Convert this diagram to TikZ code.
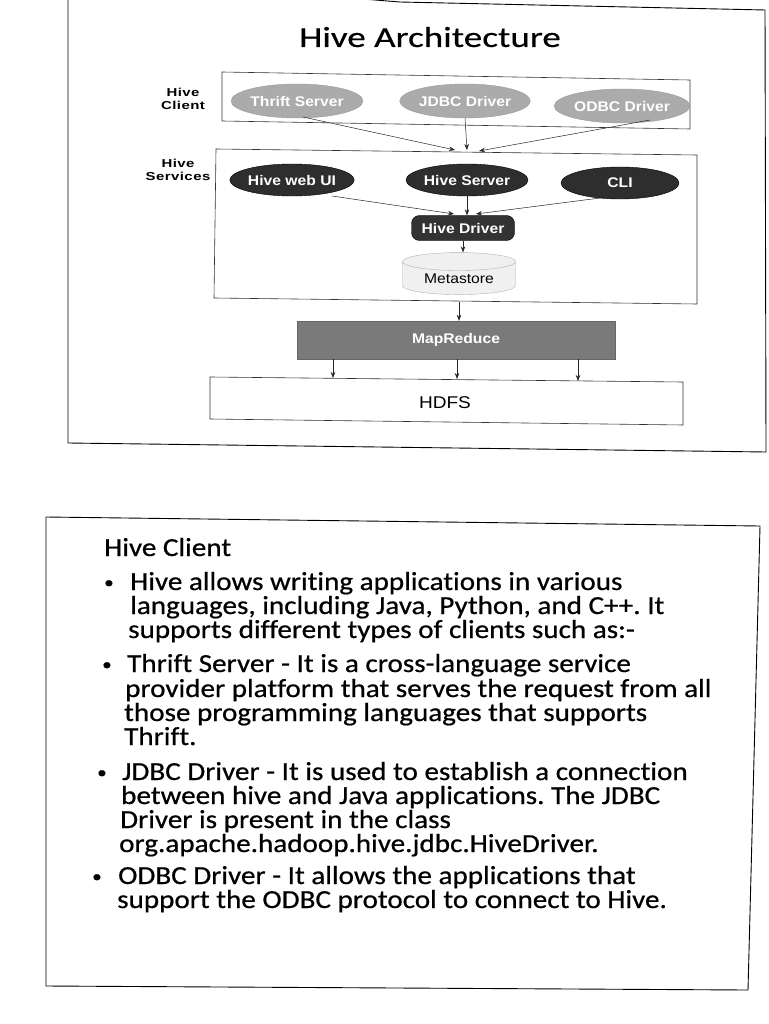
\documentclass[tikz,border=0pt]{standalone}
\usepackage{fontspec}
\setmainfont{Carlito}[Ligatures=NoCommon]
\newfontfamily\bodyfont{Carlito}[Ligatures=NoCommon,FakeStretch=1.12,FakeBold=0.6]
\newfontfamily\titlefont{Carlito}[Ligatures=NoCommon,FakeStretch=1.28,FakeBold=0.4]
\newfontfamily\arialfont{Liberation Sans}[FakeStretch=1.12]
\newfontfamily\sidefont{Liberation Sans}[FakeStretch=1.3,LetterSpace=4]
\usetikzlibrary{shapes.geometric,arrows.meta}
\frenchspacing
\begin{document}
\begin{tikzpicture}[x=1pt,y=-1pt,
  frame/.style={draw=black, line width=0.9pt},
  boxline/.style={draw=black!80, line width=0.6pt},
  lightell/.style={ellipse, fill=black!33, draw=black!40, text=white, inner sep=0pt,
     minimum width=118pt, minimum height=34pt, font=\arialfont\bfseries\fontsize{14}{15}\selectfont},
  darkell/.style={ellipse, fill=black!82, draw=black, text=white, inner sep=0pt,
     minimum width=118pt, minimum height=32pt, font=\arialfont\bfseries\fontsize{14}{15}\selectfont},
  drvbox/.style={rectangle, rounded corners=8pt, fill=black!80, draw=black, text=white,
     minimum width=103pt, minimum height=25pt, font=\arialfont\bfseries\fontsize{14}{15}\selectfont},
  metacyl/.style={cylinder, shape border rotate=90, aspect=0.25, draw=gray!60, fill=gray!12,
     minimum width=113pt, minimum height=42pt, inner sep=1pt, font=\arialfont\fontsize{14}{15}\selectfont},
  mrbox/.style={rectangle, fill=black!52, draw=black!60, text=white,
     minimum width=318pt, minimum height=38pt, font=\arialfont\bfseries\fontsize{14}{15}\selectfont},
  sidelbl/.style={align=center, font=\sidefont\bfseries\fontsize{11.5}{13}\selectfont},
  arr/.style={-{Stealth[length=6pt,width=4.5pt]}, line width=0.5pt, draw=black!85},
  body/.style={anchor=base west, inner sep=0pt, font=\bodyfont\fontsize{26}{26}\selectfont},
  bul/.style={anchor=base west, inner sep=0pt, font=\bodyfont\fontsize{17}{17}\selectfont}
]
\useasboundingbox (0,0) rectangle (768,1024);
\fill[white] (0,0) rectangle (768,1024);

% ---------- top frame ----------
\draw[frame] (68,-10) -- (68,443) -- (766,452) -- (765,10) -- (400,2) -- (300,-6);
\node (title) at (430,37) {\titlefont\fontsize{29}{32}\selectfont Hive Architecture};

% client row
\draw[boxline] (222,72) -- (690,80) -- (690,129) -- (222,121) -- cycle;
\node[sidelbl] (lclient) at (183,99) {Hive\\Client};
\node[lightell] (thrift) at (297,101) {Thrift Server};
\node[lightell] (jdbc) at (465,101) {JDBC Driver};
\node[lightell] (odbc) at (622,106) {ODBC Driver};

% services box
\draw[boxline] (216,149) -- (697,155) -- (697,304) -- (214,298) -- cycle;
\node[sidelbl] (lserv) at (178,170) {Hive\\Services};
\node[darkell] (webui) at (292,180) {Hive web UI};
\node[darkell] (hserver) at (467,180) {Hive Server};
\node[darkell] (cli) at (620,183) {CLI};
\node[drvbox] (hdriver) at (463,228) {Hive Driver};
\node[metacyl] (meta) at (459,279) {Metastore};

\coordinate (c1) at (455,150);
\coordinate (c2) at (467,150);
\coordinate (c3) at (479,151);
\coordinate (t0) at (303,117);
\coordinate (o0) at (650,120);
\draw[arr] (t0) -- (c1);
\draw[arr] (jdbc.south) -- (c2);
\draw[arr] (o0) -- (c3);

\coordinate (d1) at (454,214);
\coordinate (d3) at (476,214);
\coordinate (w0) at (332,196);
\coordinate (k0) at (600,198);
\draw[arr] (w0) -- (d1);
\draw[arr] (hserver.south) -- (hdriver.north -| hserver.south);
\draw[arr] (k0) -- (d3);
\draw[arr] (hdriver.south) -- (meta.north -| hdriver.south);

% MapReduce
\node[mrbox] (mapred) at (456,340) {MapReduce};
\coordinate (m0) at (459,302);
\draw[arr] (m0) -- (mapred.north -| m0);

% HDFS
\draw[boxline] (210,377) -- (683,382) -- (683,425) -- (210,419) -- cycle;
\node (hdfs) at (445,403) {\arialfont\fontsize{17}{18}\selectfont HDFS};
\coordinate (h1) at (333,378);
\coordinate (h2) at (457,379);
\coordinate (h3) at (578,381);
\draw[arr] (mapred.south -| h1) -- (h1);
\draw[arr] (mapred.south -| h2) -- (h2);
\draw[arr] (mapred.south -| h3) -- (h3);

% ---------- bottom frame ----------
\draw[frame] (46,517) -- (760,526) -- (748,990) -- (46,986) -- cycle;

\node[body] (head) at (104,556) {Hive Client};
\node[bul] (b1) at (104,588) {•};
\node[body] (t1) at (130,590) {Hive allows writing applications in various};
\node[body] (t2) at (130,614) {languages, including Java, Python, and C++. It};
\node[body] (t3) at (128,638) {supports different types of clients such as:-};
\node[bul] (b2) at (102,670) {•};
\node[body] (t4) at (127,672) {Thrift Server - It is a cross-language service};
\node[body] (t5) at (125,697) {provider platform that serves the request from all};
\node[body] (t6) at (124,721) {those programming languages that supports};
\node[body] (t7) at (124,745) {Thrift.};
\node[bul] (b3) at (97,778) {•};
\node[body] (t8) at (122,780) {JDBC Driver - It is used to establish a connection};
\node[body] (t9) at (121,804) {between hive and Java applications. The JDBC};
\node[body] (t10) at (120,828) {Driver is present in the class};
\node[body] (t11) at (119,852) {org.apache.hadoop.hive.jdbc.HiveDriver.};
\node[bul] (b4) at (92,882) {•};
\node[body] (t12) at (118,884) {ODBC Driver - It allows the applications that};
\node[body] (t13) at (117,908) {support the ODBC protocol to connect to Hive.};
\end{tikzpicture}
\end{document}
